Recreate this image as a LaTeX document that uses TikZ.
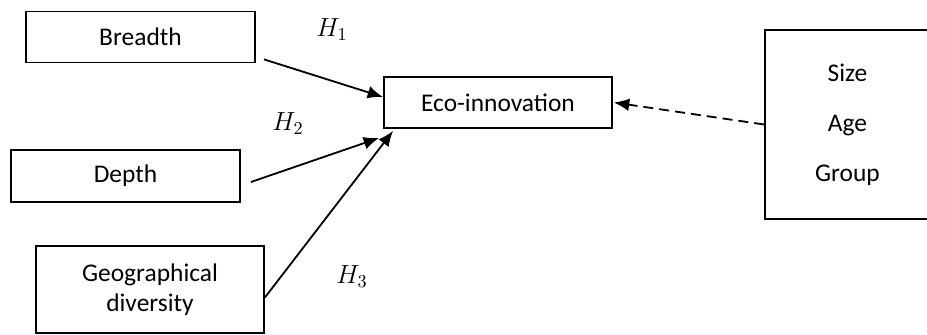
\documentclass[tikz,border=0pt]{standalone}
\usepackage{amsmath}
\usepackage{fontspec}
\setmainfont{Carlito}
\usepackage{tikz}
\usetikzlibrary{
arrows.meta,
calc
}

\begin{document}
\begin{tikzpicture}[x=0.55pt,y=-0.55pt,
    font=\fontsize{14}{16.5}\selectfont,
    box/.style={draw,line width=1pt,align=center,inner sep=0pt},
    hyp/.style={-{Latex[length=8.5pt,width=7pt]},line width=1pt},
    ctrl/.style={hyp,dashed,dash pattern=on 5.5pt off 3.3pt}]
      \clip (0,0) rectangle (927,335);
      % determinants
      \node[box,minimum width=126pt,minimum height=28pt] (breadth) at (140.5,37) {Breadth};
      \node[box,minimum width=126pt,minimum height=28.6pt] (depth) at (125.5,176) {Depth};
      \node[box,minimum width=125.4pt,minimum height=47.9pt] (geo) at (150,289.5) {Geographical\\diversity};
      % outcome
      \node[box,minimum width=125.4pt,minimum height=28pt] (eco) at (498,102.5) {Eco-innovation};
      % controls
      \node[box,minimum width=90.75pt,minimum height=104pt] (controls) at (847.5,124.5) {Size\\[11pt]Age\\[11pt]Group};
      % hypotheses
      \node (h1) at (332,30) {$H_1$};
      \node (h2) at (288,124) {$H_2$};
      \node (h3) at (352,277) {$H_3$};
         \path[hyp] ([xshift=4.4pt,yshift=2.2pt]breadth.south east) edge ([yshift=3pt]eco.west);
         \path[hyp] ([xshift=5.5pt,yshift=-3.3pt]depth.east) edge ([xshift=-2.2pt,yshift=-5pt]eco.south west);
         \path[hyp] ([yshift=-4.4pt]geo.east) edge ([xshift=5.5pt,yshift=-1.1pt]eco.south west);
         \path[ctrl] (controls.west) edge ([xshift=0.5pt]eco.east);
\end{tikzpicture}
\end{document}
